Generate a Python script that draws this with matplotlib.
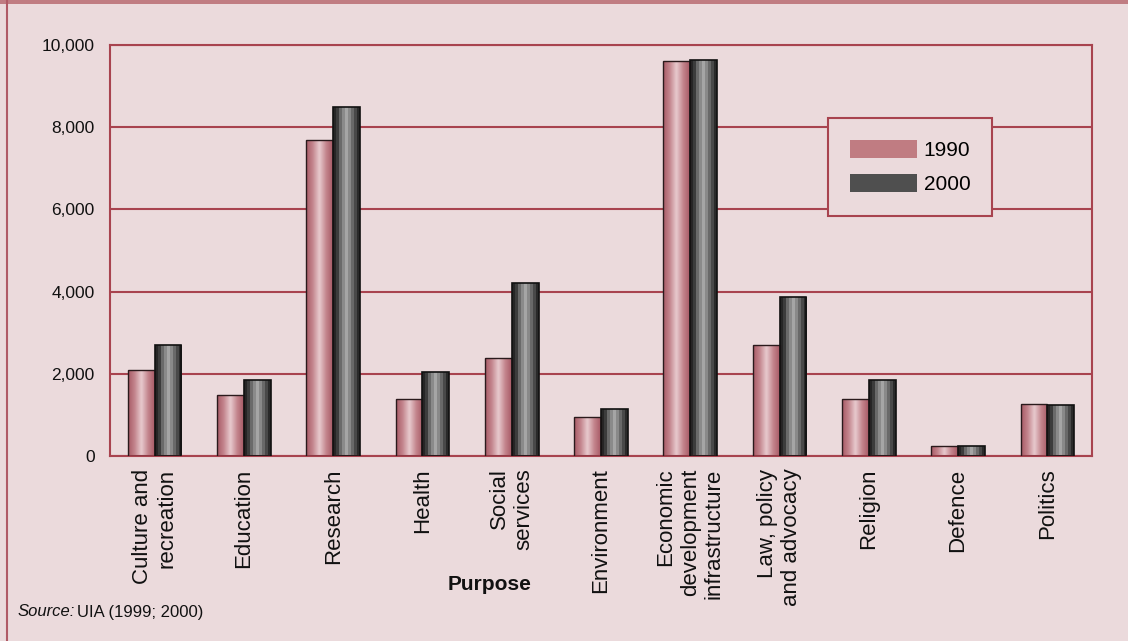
import numpy as np
import matplotlib
matplotlib.use("Agg")
import matplotlib.pyplot as plt
from matplotlib.colors import LinearSegmentedColormap
from matplotlib.lines import Line2D
from matplotlib.patches import Rectangle, Patch
from matplotlib.ticker import FuncFormatter

plt.rcParams['font.family'] = ['Liberation Sans', 'DejaVu Sans']

purposes = ["Culture and\nrecreation", "Education", "Research", "Health",
            "Social\nservices", "Environment",
            "Economic\ndevelopment\ninfrastructure",
            "Law, policy\nand advocacy", "Religion", "Defence", "Politics"]
vals_1990 = [2100, 1480, 7680, 1390, 2380, 950, 9610, 2700, 1390, 240, 1270]
vals_2000 = [2700, 1850, 8480, 2040, 4210, 1140, 9630, 3870, 1850, 240, 1240]
years = ["1990", "2000"]

bg = "#ebdadc"
red = "#a8434f"

fig = plt.figure(figsize=(11.28, 6.41), dpi=100, facecolor=bg)
ax = fig.add_axes([110/1128, 1-456/641, 982/1128, 411/641])
ax.set_facecolor(bg)

cm_pink = LinearSegmentedColormap.from_list("pink", ["#a85a66", "#c4868e", "#e8cbcf", "#c4868e", "#a85a66"])
cm_grey = LinearSegmentedColormap.from_list("grey", ["#262626", "#3c3c3c", "#6a6a6a", "#8a8a8a", "#a6a6a6",
                                                     "#8a8a8a", "#6a6a6a", "#4a4a4a", "#2a2a2a"])

x = np.arange(len(purposes))
w = 0.30
b1 = ax.bar(x - w/2, vals_1990, w, color="none", edgecolor="#2a1a1c", linewidth=1.0, zorder=3)
b2 = ax.bar(x + w/2, vals_2000, w, color="none", edgecolor="#111111", linewidth=1.2, zorder=3)

grad = np.linspace(0, 1, 64).reshape(1, -1)
grad_steps = np.linspace(0, 1, 9).reshape(1, -1)
for bars, cmap, g, interp in [(b1, cm_pink, grad, "bicubic"), (b2, cm_grey, grad_steps, "nearest")]:
    for bar in bars:
        bx, by = bar.get_x(), bar.get_y()
        bw, bh = bar.get_width(), bar.get_height()
        im = ax.imshow(g, cmap=cmap, aspect="auto", extent=[bx, bx + bw, by, by + bh],
                       zorder=2.5, interpolation=interp)
        im.set_clip_path(bar)

ax.set_xlim(-0.5, len(purposes) - 0.5)
ax.set_ylim(0, 10000)
ax.set_yticks([0, 2000, 4000, 6000, 8000, 10000])
ax.yaxis.set_major_formatter(FuncFormatter(lambda v, p: f"{int(v):,}"))
ax.yaxis.grid(True, color=red, linewidth=1.5, zorder=1)
ax.set_axisbelow(True)
for s in ax.spines.values():
    s.set_color(red)
    s.set_linewidth(1.5)

ax.set_xticks(x)
ax.set_xticklabels(purposes, rotation=90, ha="center", va="top", multialignment="right",
                   fontsize=16, color="#111111")
ax.tick_params(axis="x", length=0, pad=9)
ax.tick_params(axis="y", length=0, pad=11, labelsize=12.5, labelcolor="#111111")

fig.text(490/1128, 1-585/641, "Purpose", fontsize=15, fontweight="bold", ha="center", va="center",
         color="#111111")
src = fig.text(18/1128, 1-612/641, "Source:", fontsize=12, style="italic", ha="left", va="center",
               color="#111111")
fig.add_artist(plt.Annotation("UIA (1999; 2000)", xy=(1, 0.5), xycoords=src, xytext=(1.5, 0),
                              textcoords="offset points", ha="left", va="center", fontsize=12,
                              color="#111111"))

handles = [Patch(facecolor="#c07c82", edgecolor="none"), Patch(facecolor="#4f4f4f", edgecolor="none")]
leg = fig.legend(handles, years, loc="upper left",
                 bbox_to_anchor=(828/1128, 1-118/641), bbox_transform=fig.transFigure,
                 fontsize=15, handlelength=3.2, handleheight=0.95, handletextpad=0.35,
                 labelspacing=0.65, borderpad=1.05, borderaxespad=0, fancybox=False,
                 facecolor=bg, edgecolor=red, framealpha=1)
leg.get_frame().set_linewidth(1.5)

# outer border
fig.add_artist(Rectangle((0, 1-4/641), 1, 4/641, transform=fig.transFigure,
                         facecolor="#c07c82", edgecolor="none"))
fig.add_artist(Line2D([7/1128, 7/1128], [0, 1], transform=fig.transFigure, color="#b05a66",
                      linewidth=1.5))

fig.savefig("out.png", dpi=100, facecolor=bg)
